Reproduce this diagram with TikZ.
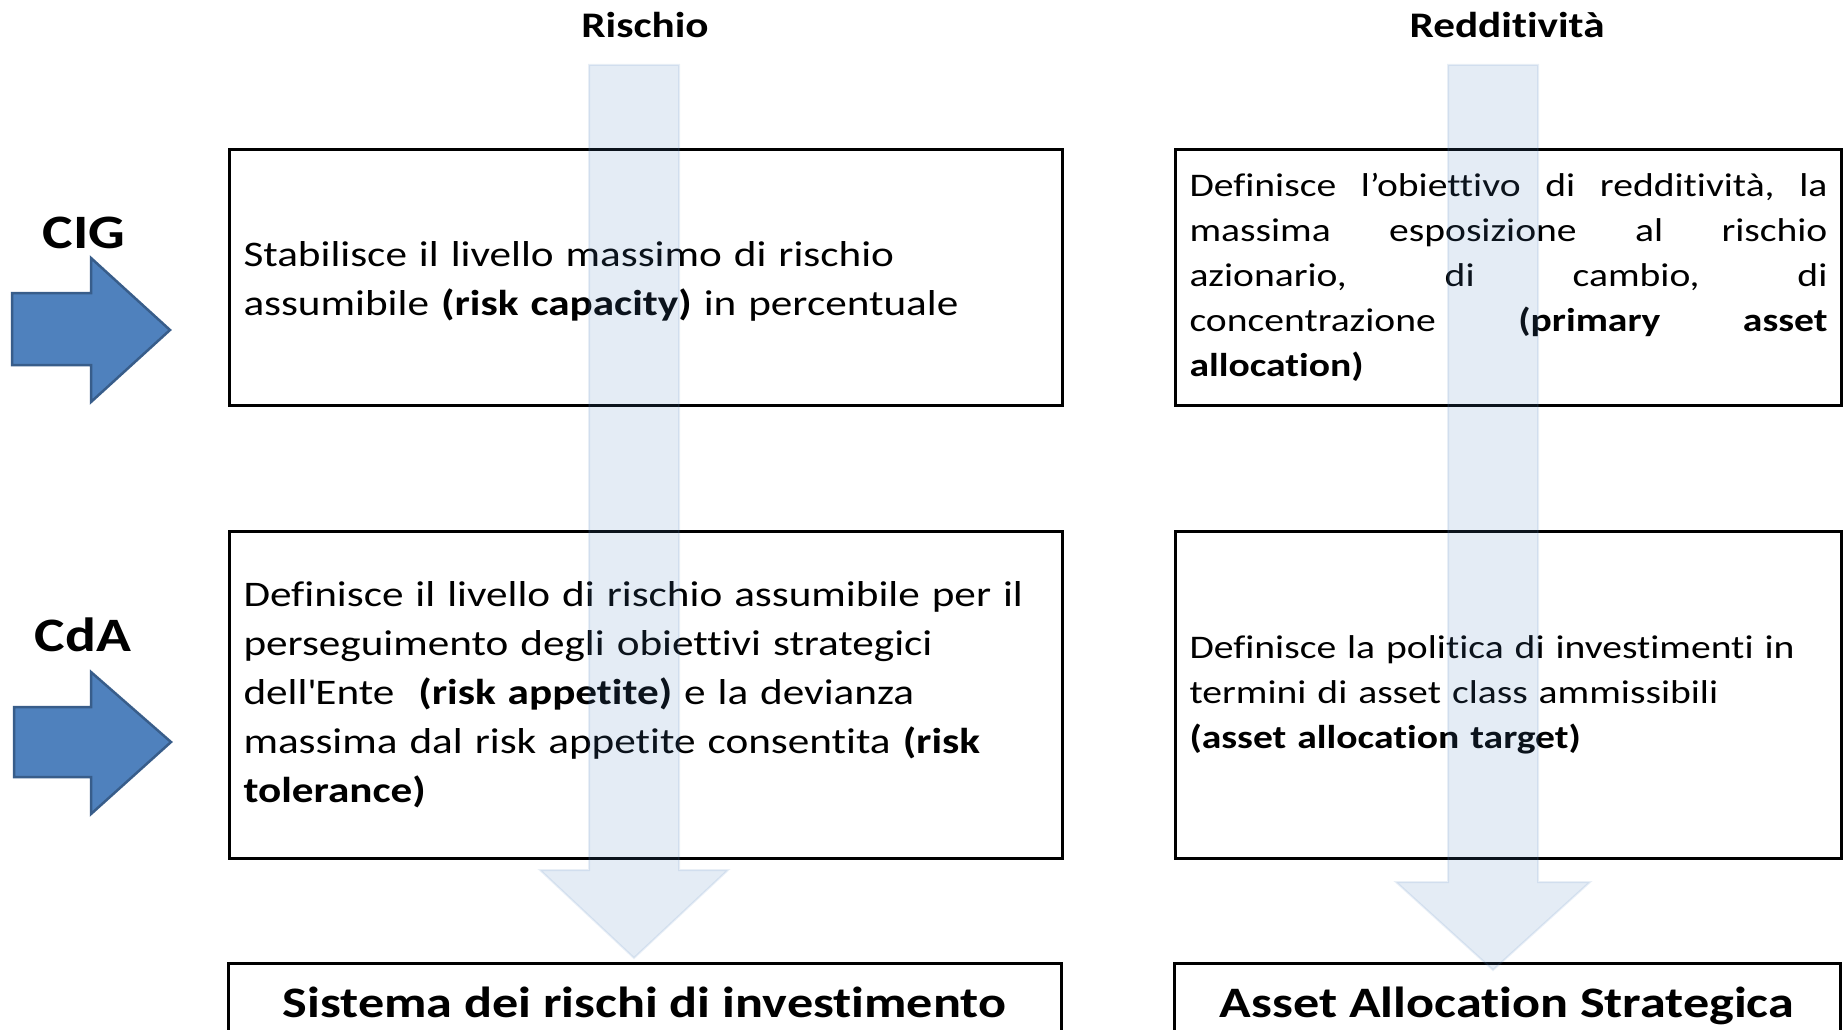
\documentclass[tikz,border=0pt]{standalone}
\usepackage{fontspec}
\setmainfont{Carlito}[FakeStretch=1.2, Ligatures=NoCommon]
\usetikzlibrary{calc}
\definecolor{ablue}{RGB}{79,129,189}
\definecolor{ablueline}{RGB}{56,93,138}
\newcommand\jline[1]{\leavevmode\hbox to 638pt{#1}}
\begin{document}
\begin{tikzpicture}[x=1pt,y=-1pt,
  box/.style={draw=black, line width=3pt, anchor=north west, inner xsep=14pt, inner ysep=0pt, align=left},
  bodyl/.style={font=\fontsize{36}{49}\selectfont},
  bodyr/.style={font=\fontsize{33}{45}\selectfont},
  head/.style={font=\bfseries\fontsize{36}{44}\selectfont, anchor=base, inner sep=0pt},
  who/.style={font=\bfseries\fontsize{48}{56}\selectfont, anchor=base, inner sep=0pt},
  titletext/.style={font=\bfseries\fontsize{43.5}{50}\selectfont, anchor=base, inner sep=0pt},
  boxline/.style={draw=black, line width=3pt},
  bigarrow/.style={fill=ablue, draw=ablueline, line width=2.5pt, line join=miter},
  flow/.style={fill=ablue, fill opacity=0.15, draw=ablue, draw opacity=0.12, line width=2pt, line join=miter}
]
\useasboundingbox (0,0) rectangle (1847,1030);
\clip (0,0) rectangle (1847,1030);
\fill[white] (0,0) rectangle (1847,1030);

% headers
\node[head] (rischio) at (645,38) {Rischio};
\node[head] (redd) at (1507,38) {Redditività};

% side labels
\node[who] (cig) at (84,248) {CIG};
\node[who] (cda) at (83,651) {CdA};

% blue arrows
\draw[bigarrow] (12,293) -- (91,293) -- (91,258) -- (170,330) -- (91,402) -- (91,365) -- (12,365) -- cycle;
\draw[bigarrow] (14,707) -- (91,707) -- (91,672) -- (171,742) -- (91,814) -- (91,777) -- (14,777) -- cycle;

% boxes
\node[box, bodyl, text width=805pt, minimum width=833pt, minimum height=256pt] (cap) at (228,148)
  {\rule{0pt}{32pt}Stabilisce il livello massimo di rischio\\assumibile \textbf{(risk capacity)} in percentuale};
\node[box, bodyr, text width=638pt, minimum width=666pt, minimum height=256pt] (prim) at (1174,148)
  {\jline{Definisce\hfill l’obiettivo\hfill di\hfill redditività,\hfill la}\\
   \jline{massima\hfill esposizione\hfill al\hfill rischio}\\
   \jline{azionario,\hfill di\hfill cambio,\hfill di}\\
   \jline{concentrazione\hfill \textbf{(primary}\hfill \textbf{asset}}\\
   \textbf{allocation)}};
\node[box, bodyl, text width=805pt, minimum width=833pt, minimum height=327pt] (app) at (228,530)
  {Definisce il livello di rischio assumibile per il\\
   perseguimento degli obiettivi strategici\\
   dell\textquotesingle Ente\ \ \textbf{(risk appetite)} e la devianza\\
   massima dal risk appetite consentita \textbf{(risk}\\
   \textbf{tolerance)}};
\node[box, bodyr, text width=638pt, minimum width=666pt, minimum height=327pt] (targ) at (1174,530)
  {Definisce la politica di investimenti in\\
   termini di asset class ammissibili\\
   \textbf{(asset allocation target)}};

% bottom boxes (cut by the lower edge)
\coordinate (sysnw) at (228,963);
\coordinate (sysne) at (1061,963);
\coordinate (aasnw) at (1174,963);
\coordinate (aasne) at (1840,963);
\draw[boxline] ($(sysnw)+(0,100)$) -- (sysnw) -- (sysne) -- ($(sysne)+(0,100)$);
\draw[boxline] ($(aasnw)+(0,100)$) -- (aasnw) -- (aasne) -- ($(aasne)+(0,100)$);
\node[titletext] (sys) at (644.5,1017) {Sistema dei rischi di investimento};
\node[titletext] (aas) at (1507,1017) {Asset Allocation Strategica};

% light flow arrows
\draw[flow] (589,65) -- (679,65) -- (679,870) -- (728,870) -- (634,958) -- (540,870) -- (589,870) -- cycle;
\draw[flow] (1448,65) -- (1538,65) -- (1538,882) -- (1590,882) -- (1493,970) -- (1396,882) -- (1448,882) -- cycle;
\end{tikzpicture}
\end{document}
